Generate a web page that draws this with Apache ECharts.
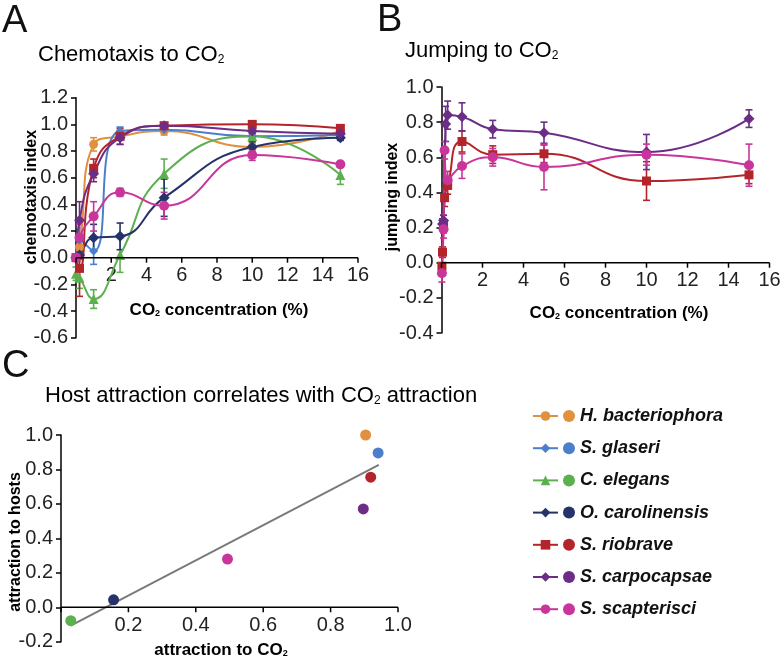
<!DOCTYPE html>
<html><head><meta charset="utf-8">
<script src="https://cdn.jsdelivr.net/npm/echarts@6/dist/echarts.min.js"></script>
<style>html,body{margin:0;padding:0;background:#fff}#c{width:780px;height:663px}</style>
</head><body><div id="c"></div><script>
// ---------- data ----------
const species = ['H. bacteriophora','S. glaseri','C. elegans','O. carolinensis','S. riobrave','S. carpocapsae','S. scapterisci'];
const colors  = ['#e0903e','#4c7fcb','#5db04f','#25336a','#b3252a','#6c2d86','#c8369b'];
const symbols = ['circle','diamond','triangle','diamond','rect','diamond','circle'];
const symbolSizes = [9,9,10,11,9,11,10];

// Panel A: chemotaxis to CO2
const concA = [0, 0.2, 1, 2.5, 5, 10, 15];
const chemoHb = [0.00, 0.08, 0.85, 0.91, 0.95, 0.83, 0.95];
const chemoSg = [0.00, 0.13, 0.05, 0.95, 0.96, 0.91, 0.92];
const chemoCe = [-0.12, -0.15, -0.31, 0.02, 0.63, 0.91, 0.62];
const chemoOc = [0.00, 0.02, 0.15, 0.16, 0.45, 0.83, 0.90];
const chemoSr = [0.00, -0.08, 0.67, 0.91, 0.99, 1.00, 0.97];
const chemoSc = [0.00, 0.28, 0.63, 0.90, 0.99, 0.95, 0.93];
const chemoSs = [0.00, 0.15, 0.31, 0.49, 0.39, 0.77, 0.70];
const errHb = [0, 0.05, 0.05, 0.03, 0.03, 0.03, 0.02];
const errSg = [0, 0.05, 0.10, 0.03, 0.02, 0.02, 0.02];
const errCe = [0.05, 0.08, 0.07, 0.13, 0.11, 0.04, 0.07];
const errOc = [0, 0.03, 0.10, 0.10, 0.14, 0.04, 0.02];
const errSr = [0, 0.21, 0.07, 0.06, 0.02, 0.02, 0.02];
const errSc = [0, 0.14, 0.06, 0.05, 0.02, 0.02, 0.02];
const errSs = [0, 0.10, 0.11, 0.03, 0.10, 0.04, 0.02];

// Panel B: jumping to CO2
const jumpConcSr = [0.02, 0.05, 0.1, 0.15, 0.3, 1, 2.5, 5, 10, 15];
const jumpSr     = [-0.02, 0.06, 0.22, 0.37, 0.44, 0.69, 0.615, 0.62, 0.465, 0.50];
const jumpErrSr  = [0.02, 0.03, 0.05, 0.05, 0.05, 0.06, 0.05, 0.05, 0.11, 0.05];
const jumpConcSc = [0.05, 0.1, 0.2, 0.3, 1, 2.5, 5, 10, 15];
const jumpSc     = [0.22, 0.24, 0.79, 0.84, 0.83, 0.76, 0.74, 0.63, 0.82];
const jumpErrSc  = [0.03, 0.03, 0.10, 0.08, 0.08, 0.05, 0.06, 0.10, 0.05];
const jumpConcSs = [0.02, 0.1, 0.15, 0.3, 1, 2.5, 5, 10, 15];
const jumpSs     = [-0.06, 0.19, 0.64, 0.47, 0.55, 0.60, 0.545, 0.615, 0.555];
const jumpErrSs  = [0.05, 0.05, 0.05, 0.05, 0.07, 0.05, 0.13, 0.06, 0.12];

// Panel C: host attraction vs CO2 attraction (species order)
const hostCO2  = [0.904, 0.941, 0.029, 0.156, 0.919, 0.897, 0.494];
const hostAttr = [1.000, 0.896, -0.078, 0.043, 0.755, 0.571, 0.280];
const trendX = [0.029, 0.943];
const trendY = [-0.107, 0.826];

// x-axis tick values (axis drawn at y = 0)
const xTicksA = [0, 2, 4, 6, 8, 10, 12, 14, 16];
const xTicksB = [0, 2, 4, 6, 8, 10, 12, 14, 16];
const xTicksC = [0, 0.2, 0.4, 0.6, 0.8, 1.0];

// ---------- build ----------
const FONT = '"Liberation Sans", Arial, Helvetica, sans-serif';
const chemo = [chemoHb, chemoSg, chemoCe, chemoOc, chemoSr, chemoSc, chemoSs];
const chemoErr = [errHb, errSg, errCe, errOc, errSr, errSc, errSs];

const grids = [
  {left: 76, top: 97.7, width: 282, height: 240},
  {left: 441.5, top: 87, width: 328, height: 246},
  {left: 61, top: 435, width: 337, height: 206.7}
];
const yRanges = [[-0.6, 1.2], [-0.4, 1.0], [-0.2, 1.0]];

function valAxis(gridIndex, min, max, interval, isX, fmt) {
  const ax = {
    type: 'value', gridIndex, min, max, interval,
    splitLine: {show: false},
    axisLine: {show: !isX, onZero: false, lineStyle: {color: '#000', width: 1.5}},
    axisTick: {show: !isX, length: 5, lineStyle: {color: '#000', width: 1.5}},
    axisLabel: {fontSize: 20, color: '#222', fontFamily: FONT, margin: 8, formatter: fmt}
  };
  if (isX) {
    const r = yRanges[gridIndex];
    ax.position = 'bottom';
    ax.offset = -(-r[0]) / (r[1] - r[0]) * grids[gridIndex].height;
  }
  return ax;
}
const intFmt = v => (Math.abs(v) < 1e-9 ? '' : String(Math.round(v)));
const decFmt = v => (Math.abs(v) < 1e-9 ? '0.0' : v.toFixed(1));
const decFmtNoZero = v => (Math.abs(v) < 1e-9 ? '' : v.toFixed(1));

function lineSeries(i, xAxisIndex, xs, ys) {
  return {
    type: 'line', name: species[i], xAxisIndex, yAxisIndex: xAxisIndex,
    data: xs.map((x, k) => [x, ys[k]]), smooth: 0.5,
    symbol: symbols[i], symbolSize: symbolSizes[i],
    lineStyle: {color: colors[i], width: 2}, itemStyle: {color: colors[i]},
    z: 3
  };
}
function errSeries(i, xAxisIndex, xs, ys, es) {
  const color = colors[i];
  return {
    type: 'custom', name: species[i] + ' error', xAxisIndex, yAxisIndex: xAxisIndex,
    silent: true, z: 2, encode: {x: 0, y: 1},
    data: xs.map((x, k) => [x, ys[k], es[k]]),
    renderItem: (params, api) => {
      const x = api.value(0), y = api.value(1), e = api.value(2);
      if (!e) return null;
      const t = api.coord([x, y + e]), b = api.coord([x, y - e]);
      const w = 3.5, st = {stroke: color, lineWidth: 1.6};
      return {type: 'group', children: [
        {type: 'line', shape: {x1: t[0], y1: t[1], x2: b[0], y2: b[1]}, style: st},
        {type: 'line', shape: {x1: t[0] - w, y1: t[1], x2: t[0] + w, y2: t[1]}, style: st},
        {type: 'line', shape: {x1: b[0] - w, y1: b[1], x2: b[0] + w, y2: b[1]}, style: st}
      ]};
    }
  };
}

const series = [];
species.forEach((s, i) => series.push(lineSeries(i, 0, concA, chemo[i])));
species.forEach((s, i) => series.push(errSeries(i, 0, concA, chemo[i], chemoErr[i])));
series.push(lineSeries(4, 1, jumpConcSr, jumpSr));
series.push(lineSeries(5, 1, jumpConcSc, jumpSc));
series.push(lineSeries(6, 1, jumpConcSs, jumpSs));
series.push(errSeries(4, 1, jumpConcSr, jumpSr, jumpErrSr));
series.push(errSeries(5, 1, jumpConcSc, jumpSc, jumpErrSc));
series.push(errSeries(6, 1, jumpConcSs, jumpSs, jumpErrSs));
series.push({
  type: 'line', name: 'trend', xAxisIndex: 2, yAxisIndex: 2,
  data: trendX.map((x, k) => [x, trendY[k]]), symbol: 'none',
  lineStyle: {color: '#7a7a7a', width: 2}, z: 2
});
species.forEach((s, i) => series.push({
  type: 'scatter', name: s, xAxisIndex: 2, yAxisIndex: 2,
  data: [[hostCO2[i], hostAttr[i]]], symbol: 'circle', symbolSize: 11,
  itemStyle: {color: colors[i], opacity: 1}, z: 3
}));

const subRich = (fs, bold) => ({
  m: {fontSize: fs, fontFamily: FONT, fontWeight: bold ? 'bold' : 'normal', lineHeight: fs + 4, verticalAlign: 'bottom', color: '#111'},
  s: {fontSize: Math.round(fs * 0.55), fontFamily: FONT, fontWeight: bold ? 'bold' : 'normal', lineHeight: 9, verticalAlign: 'bottom', color: '#111'}
});
function label(text, x, y, fs, bold, rot, align) {
  const a = align || 'center';
  return {
    type: 'text', x, y, rotation: rot || 0,
    style: {text, rich: subRich(fs, bold), align: a, verticalAlign: 'middle', textAlign: a, textVerticalAlign: 'middle'}
  };
}
function plain(text, x, y, fs, align) {
  return {type: 'text', x, y, style: {text, font: fs + 'px ' + FONT, fill: '#111', align: align || 'left', verticalAlign: 'middle', textAlign: align || 'left', textVerticalAlign: 'middle'}};
}

const graphics = [
  plain('A', 2, 22, 38),
  plain('B', 377, 21, 38),
  plain('C', 2, 367, 38),
  label('{m|Chemotaxis to CO}{s|2}', 38, 53, 22, false, 0, 'left'),
  label('{m|Jumping to CO}{s|2}', 405, 49, 22, false, 0, 'left'),
  label('{m|Host attraction correlates with CO}{s|2}{m| attraction}', 45, 394, 22, false, 0, 'left'),
  label('{m|CO}{s|2}{m| concentration (%)}', 219, 308, 17, true),
  label('{m|CO}{s|2}{m| concentration (%)}', 619, 311, 17, true),
  label('{m|attraction to CO}{s|2}', 221, 648, 17, true),
  label('{m|chemotaxis index}', 30, 197, 16, true, Math.PI / 2),
  label('{m|jumping index}', 391, 197, 16, true, Math.PI / 2),
  label('{m|attraction to hosts}', 14, 542, 16, true, Math.PI / 2)
];

const legendText = {fontSize: 18, fontWeight: 'bold', fontStyle: 'italic', color: '#111', fontFamily: FONT, lineHeight: 20};
const option = {
  animation: false,
  backgroundColor: '#fff',
  grid: grids.map(g => Object.assign({outerBoundsMode: 'none'}, g)),
  xAxis: [
    valAxis(0, 0, 16, 2, true, intFmt),
    valAxis(1, 0, 16, 2, true, intFmt),
    valAxis(2, 0, 1.0, 0.2, true, decFmtNoZero)
  ],
  yAxis: [
    valAxis(0, yRanges[0][0], yRanges[0][1], 0.2, false, decFmt),
    valAxis(1, yRanges[1][0], yRanges[1][1], 0.2, false, decFmt),
    valAxis(2, yRanges[2][0], yRanges[2][1], 0.2, false, decFmt)
  ],
  legend: [
    {
      data: species, orient: 'vertical', left: 527, top: 401, itemWidth: 25, itemHeight: 12,
      itemGap: 12.2, selectedMode: false, formatter: () => ' ', textStyle: legendText
    },
    {
      data: species.map((s, i) => ({name: s, icon: 'circle', itemStyle: {color: colors[i]}})),
      orient: 'vertical', left: 558, top: 401, itemWidth: 12, itemHeight: 12, itemGap: 12.2,
      selectedMode: false, textStyle: legendText
    }
  ],
  graphic: graphics,
  series
};
const chart = echarts.init(document.getElementById('c'));
chart.setOption(option);

// x axes at y = 0: positions come from the chart's own scales
const axisEls = [];
[xTicksA, xTicksB, xTicksC].forEach((ticks, gi) => {
  const lo = chart.convertToPixel({gridIndex: gi}, [ticks[0], 0]);
  const hi = chart.convertToPixel({gridIndex: gi}, [ticks[ticks.length - 1], 0]);
  axisEls.push({type: 'line', z: 100, silent: true,
    shape: {x1: lo[0], y1: lo[1], x2: hi[0], y2: hi[1]}, style: {stroke: '#000', lineWidth: 1.5}});
  ticks.forEach(v => {
    const p = chart.convertToPixel({gridIndex: gi}, [v, 0]);
    axisEls.push({type: 'line', z: 100, silent: true,
      shape: {x1: p[0], y1: p[1], x2: p[0], y2: p[1] + 5}, style: {stroke: '#000', lineWidth: 1.5}});
  });
});
chart.setOption({graphic: graphics.concat(axisEls)});
</script></body></html>
